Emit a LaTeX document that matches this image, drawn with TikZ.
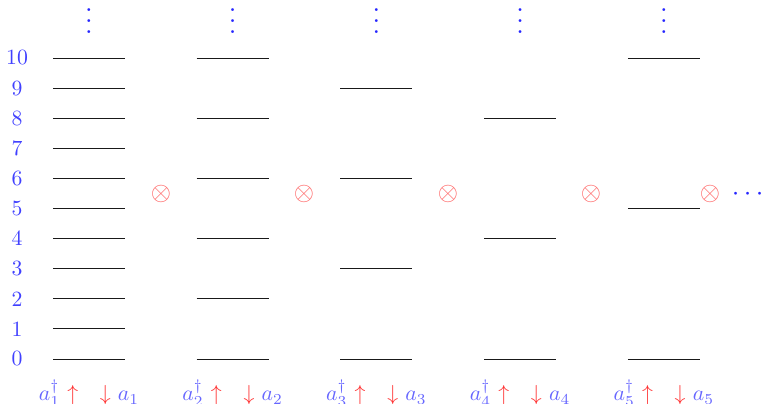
\documentclass[tikz,border=0pt]{standalone}
\usepackage{amsmath,amssymb}
\usepackage{tikz}
\usetikzlibrary{positioning,calc}

\begin{document}
\begin{tikzpicture}[
            x=0.46pt, y=0.46pt,
            levelnum/.style={text=blue!75, inner sep=0pt},
            level/.style={line width=0.45pt, black!90},
            prod/.style={text=red!60, inner sep=0pt, font=\large},
            more/.style={text=blue!85, inner sep=0pt, scale=1.25},
            oplabel/.style={anchor=base, inner sep=0pt}
        ]

        \useasboundingbox (0,0) rectangle (765,403);

        % energy levels of the five modes
        \foreach \c/\levels in {1/{0,1,2,3,4,5,6,7,8,9,10}, 2/{0,2,4,6,8,10},
                                3/{0,3,6,9}, 4/{0,4,8}, 5/{0,5,10}} {
            \coordinate (col\c) at ({53+143.7*(\c-1)},0);
            \foreach \n in \levels
                \draw[level] ($(col\c)+(0,{44+30.1*\n})$) -- ++(72,0);
            \node[more] (dots\c) at ($(col\c)+(36,390)$) {$\vdots$};
            \node[oplabel] (op\c) at ($(col\c)+(36,2)$)
                {\color{blue!60}$a_{\c}^{\dagger}$\ \color{red!80}$\uparrow$\quad$\downarrow$\ \color{blue!60}$a_{\c}$};
        }

        % quantum numbers
        \foreach \n in {0,...,10}
            \node[levelnum] (num\n) at (17,{44+30.1*\n}) {\n};

        % tensor products
        \node[prod] (prod1) at (161,209) {$\otimes$};
        \node[prod] (prod2) at (304,209) {$\otimes$};
        \node[prod] (prod3) at (448,209) {$\otimes$};
        \node[prod] (prod4) at (591,209) {$\otimes$};
        \node[prod] (prod5) at (710,209) {$\otimes$};
        \node[more] (etc) at (750,209) {$\cdots$};

        \end{tikzpicture}
\end{document}
